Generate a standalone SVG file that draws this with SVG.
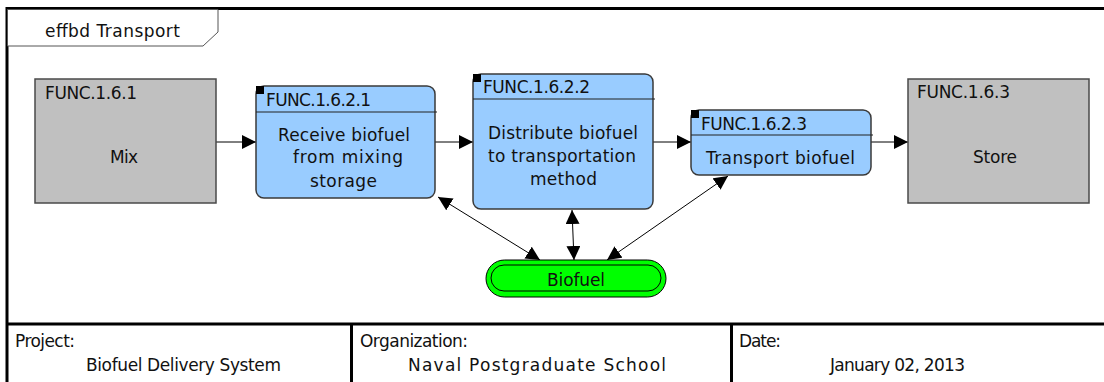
<svg xmlns="http://www.w3.org/2000/svg" width="1104" height="382" viewBox="0 0 1104 382">
<style>
text{font-family:"DejaVu Sans","Liberation Sans",sans-serif;font-size:17px;fill:#111;}
.frame{stroke:#000;stroke-width:3;fill:none;}
.gray{fill:#c0c0c0;stroke:#4a4a4a;stroke-width:1.5;}
.blue{fill:#99ccff;stroke:#3a3a3a;stroke-width:1.5;}
.hdr{stroke:#222;stroke-width:1.2;}
.conn{stroke:#000;stroke-width:1;fill:none;}
</style>
<defs>
<marker id="ah" viewBox="0 0 14 14" refX="14" refY="7" markerWidth="14" markerHeight="14" markerUnits="userSpaceOnUse" orient="auto-start-reverse">
<path d="M0,0 L14,7 L0,14 Z" fill="#000"/>
</marker>
</defs>
<g id="frame">
<path class="frame" d="M7,382 V8.5 H1104"/>
<path class="frame" d="M7,324 H1104 M351.5,324 V382 M731.5,324 V382"/>
<polygon points="7.5,9.5 218,9.5 218,32 203,46 7.5,46" fill="#fff" stroke="#555" stroke-width="1"/>
<text x="45" y="36.5" textLength="135" lengthAdjust="spacing">effbd Transport</text>
</g>
<g id="footer">
<text x="15" y="347" textLength="60" lengthAdjust="spacing">Project:</text>
<text x="86" y="371" textLength="195" lengthAdjust="spacing">Biofuel Delivery System</text>
<text x="360" y="347" textLength="108" lengthAdjust="spacing">Organization:</text>
<text x="408" y="371" textLength="258" lengthAdjust="spacing">Naval Postgraduate School</text>
<text x="739" y="347" textLength="42" lengthAdjust="spacing">Date:</text>
<text x="830" y="371" textLength="135" lengthAdjust="spacing">January 02, 2013</text>
</g>
<g id="connectors">
<line class="conn" x1="216" y1="142" x2="256" y2="142" marker-end="url(#ah)"/>
<line class="conn" x1="435" y1="142" x2="473" y2="142" marker-end="url(#ah)"/>
<line class="conn" x1="653" y1="142" x2="691" y2="142" marker-end="url(#ah)"/>
<line class="conn" x1="871" y1="142" x2="908" y2="142" marker-end="url(#ah)"/>
<line class="conn" x1="438" y1="197" x2="540" y2="260" marker-start="url(#ah)" marker-end="url(#ah)"/>
<line class="conn" x1="572" y1="210" x2="574" y2="260" marker-start="url(#ah)" marker-end="url(#ah)"/>
<line class="conn" x1="728" y1="176" x2="607" y2="260" marker-start="url(#ah)" marker-end="url(#ah)"/>
</g>
<g id="func161">
<rect class="gray" x="35" y="79" width="181" height="124"/>
<text x="45" y="99" textLength="92" lengthAdjust="spacing">FUNC.1.6.1</text>
<text x="110" y="163" textLength="28" lengthAdjust="spacing">Mix</text>
</g>
<g id="func1621">
<rect class="blue" x="256" y="86" width="179" height="112" rx="8"/>
<rect x="256" y="86" width="8" height="8" fill="#000"/>
<line class="hdr" x1="256" y1="112" x2="437" y2="112"/>
<text x="266" y="106" textLength="105" lengthAdjust="spacing">FUNC.1.6.2.1</text>
<text x="278" y="141" textLength="132" lengthAdjust="spacing">Receive biofuel</text>
<text x="293" y="163" textLength="110" lengthAdjust="spacing">from mixing</text>
<text x="310" y="187" textLength="67" lengthAdjust="spacing">storage</text>
</g>
<g id="func1622">
<rect class="blue" x="473" y="74" width="180" height="135" rx="8"/>
<rect x="473" y="74" width="8" height="8" fill="#000"/>
<line class="hdr" x1="473" y1="99" x2="655" y2="99"/>
<text x="483" y="93" textLength="107" lengthAdjust="spacing">FUNC.1.6.2.2</text>
<text x="488" y="139" textLength="150" lengthAdjust="spacing">Distribute biofuel</text>
<text x="488" y="162" textLength="148" lengthAdjust="spacing">to transportation</text>
<text x="530" y="185" textLength="67" lengthAdjust="spacing">method</text>
</g>
<g id="func1623">
<rect class="blue" x="691" y="110" width="180" height="65" rx="8"/>
<rect x="691" y="110" width="8" height="8" fill="#000"/>
<line class="hdr" x1="691" y1="135" x2="873" y2="135"/>
<text x="701" y="130" textLength="106" lengthAdjust="spacing">FUNC.1.6.2.3</text>
<text x="706" y="164" textLength="149" lengthAdjust="spacing">Transport biofuel</text>
</g>
<g id="func163">
<rect class="gray" x="908" y="79" width="181" height="124"/>
<text x="917" y="98" textLength="93" lengthAdjust="spacing">FUNC.1.6.3</text>
<text x="973" y="163" textLength="44" lengthAdjust="spacing">Store</text>
</g>
<g id="biofuel">
<rect x="486" y="260" width="180" height="37" rx="18.5" fill="#00ff00" stroke="#000" stroke-width="1"/>
<rect x="491" y="265" width="170" height="26" rx="13" fill="none" stroke="#000" stroke-width="1"/>
<text x="547" y="286" textLength="58" lengthAdjust="spacing">Biofuel</text>
</g>
</svg>
